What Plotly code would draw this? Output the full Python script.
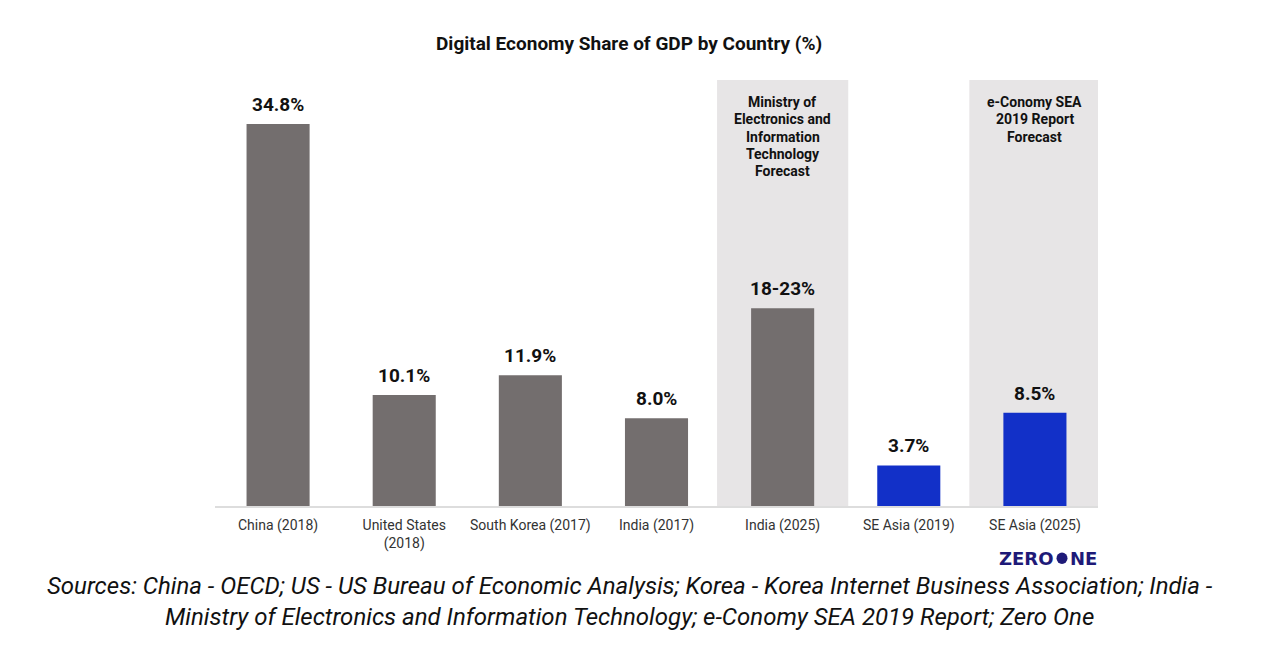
import plotly.graph_objects as go

categories = ["China (2018)", "United States<br>(2018)", "South Korea (2017)", "India (2017)",
              "India (2025)", "SE Asia (2019)", "SE Asia (2025)"]
values = [34.8, 10.1, 11.9, 8.0, 18.0, 3.7, 8.5]
value_labels = ["34.8%", "10.1%", "11.9%", "8.0%", "18-23%", "3.7%", "8.5%"]
bar_colors = ["#736e6e", "#736e6e", "#736e6e", "#736e6e", "#736e6e", "#1230c8", "#1230c8"]

band_categories = [4, 6]
band_labels = [["Ministry of", "Electronics and", "Information", "Technology", "Forecast"],
               ["e-Conomy SEA", "2019 Report", "Forecast"]]

title = "Digital Economy Share of GDP by Country (%)"
sources = ("Sources: China - OECD; US - US Bureau of Economic Analysis; Korea - Korea Internet Business Association; India -<br>"
           "Ministry of Electronics and Information Technology; e-Conomy SEA 2019 Report; Zero One")
logo_left, logo_right = "ZERO", "NE"

FONT = "Roboto"
W, H = 1286, 670
L, R, T, B = 215, 1098, 80, 506  # plot area in pixels


def px(x):
    return (x - L) / (R - L)


def py(y):
    return (B - y) / (B - T)


x_idx = list(range(len(categories)))

fig = go.Figure()
fig.add_trace(go.Bar(
    x=x_idx, y=values, width=0.5,
    marker=dict(color=bar_colors, line=dict(width=0)),
    hoverinfo="skip",
))

shapes = []
for ci in band_categories:
    shapes.append(dict(type="rect", xref="x", yref="paper", x0=ci - 0.52, x1=ci + 0.52,
                       y0=0, y1=1, fillcolor="#e7e5e6", line=dict(width=0), layer="below"))

for ci, lines in zip(band_categories, band_labels):
    for k, line in enumerate(lines):
        fig.add_annotation(x=ci, y=py(102 + 17.3 * k), xref="x", yref="paper",
                           text="<b>" + line + "</b>",
                           showarrow=False, yanchor="middle", xanchor="center",
                           font=dict(family=FONT, size=14, color="#111111"))

for xi, v, lab in zip(x_idx, values, value_labels):
    fig.add_annotation(x=xi, y=v, xref="x", yref="y", text="<b>" + lab + "</b>",
                       showarrow=False, yanchor="bottom", xanchor="center", yshift=6,
                       font=dict(family=FONT, size=19, color="#111111"))

fig.add_annotation(x=px(629), y=py(44), xref="paper", yref="paper",
                   xanchor="center", yanchor="middle", showarrow=False,
                   text="<b>" + title + "</b>",
                   font=dict(family=FONT, size=19, color="#111111"))

fig.add_annotation(x=px(630), y=py(601), xref="paper", yref="paper",
                   xanchor="center", yanchor="middle", showarrow=False,
                   text="<i>" + sources + "</i>",
                   font=dict(family=FONT, size=24, color="#111111"))

# logo
logo_color = "#1e1a78"
LOGO_FONT = "DejaVu Sans"
fig.add_annotation(x=px(1056), y=py(558), xref="paper", yref="paper",
                   xanchor="right", yanchor="middle", showarrow=False,
                   text="<b>" + logo_left + "</b>",
                   font=dict(family=LOGO_FONT, size=18, color=logo_color))
fig.add_annotation(x=px(1067.5), y=py(558), xref="paper", yref="paper",
                   xanchor="left", yanchor="middle", showarrow=False,
                   text="<b>" + logo_right + "</b>",
                   font=dict(family=LOGO_FONT, size=18, color=logo_color))
shapes.append(dict(type="circle", xref="paper", yref="paper",
                   x0=px(1056.5), x1=px(1067.5), y0=py(564), y1=py(552.5),
                   fillcolor=logo_color, line=dict(width=0)))

fig.update_layout(
    width=W, height=H,
    margin=dict(l=L, r=W - R, t=T, b=H - B),
    paper_bgcolor="white", plot_bgcolor="white",
    showlegend=False,
    shapes=shapes,
    xaxis=dict(range=[-0.5, 6.5], tickvals=x_idx, ticktext=categories, showgrid=False,
               showline=True, linecolor="#dddddd", linewidth=2, ticks="",
               ticklabelstandoff=5,
               tickfont=dict(family=FONT, size=14, color="#333333"), fixedrange=True),
    yaxis=dict(range=[0, 38.8], visible=False, showgrid=False, fixedrange=True),
)

fig.write_html("out.html")
